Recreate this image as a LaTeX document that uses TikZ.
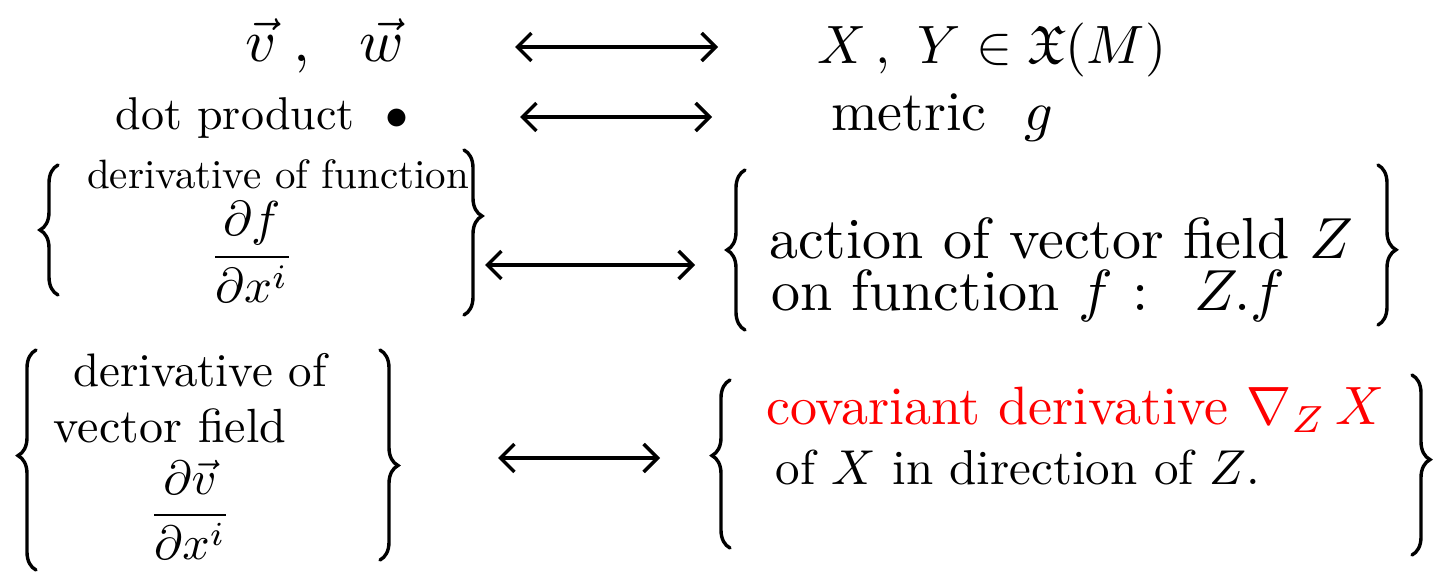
\documentclass[tikz,border=0pt]{standalone}
\usepackage{amsmath,amssymb}
\usetikzlibrary{arrows.meta,decorations.pathreplacing}
\begin{document}
\begin{tikzpicture}[x=1pt,y=-1pt,
  txt/.style={inner sep=0pt, scale=#1},
  harr/.style={line width=3.4pt, line cap=round, {Straight Barb[length=14pt,width=28pt]}-{Straight Barb[length=14pt,width=28pt]}},
  brc/.style={line width=3.4pt, line cap=round, decorate, decoration={brace, amplitude=18pt}}]
\useasboundingbox (0,0) rectangle (1454,575);
% row 1
\node[txt=6.0] (vw) at (325,46) {$\vec v\;,\ \ \vec w$};
\node[txt=5.4] (xy) at (992,50) {$X\,,\ Y \in \mathfrak{X}(M)$};
\coordinate (a1s) at (515,47); \coordinate (a1e) at (718,47);
\draw[harr] (a1s) -- (a1e);
% row 2
\node[txt=4.6] (dot) at (262,118) {dot product \ $\bullet$};
\node[txt=5.6] (met) at (942,118) {metric \ $g$};
\coordinate (a2s) at (520,117); \coordinate (a2e) at (712,117);
\draw[harr] (a2s) -- (a2e);
% row 3 left
\node[txt=4.1] (dfun) at (278,174) {derivative of function};
\node[txt=4.9] (dfx) at (252,252) {$\dfrac{\partial f}{\partial x^i}$};
\draw[brc] (58,295) -- (58,165);
\draw[brc,decoration={aspect=0.4}] (464,150) -- (464,315);
% row 3 right
\node[txt=5.8,anchor=west] (act1) at (768,238) {action of vector field $Z$};
\node[txt=5.8,anchor=west] (act2) at (770,296) {on function $f$ : \ $Z.f$};
\draw[brc] (745,330) -- (745,170);
\draw[brc,decoration={aspect=0.53}] (1378,165) -- (1378,325);
\coordinate (a3s) at (485,265); \coordinate (a3e) at (695,265);
\draw[harr] (a3s) -- (a3e);
% row 4 left
\node[txt=4.7] (dv1) at (200,370) {derivative of};
\node[txt=4.8] (dv2) at (170,426) {vector field};
\node[txt=4.8] (dvx) at (190,510) {$\dfrac{\partial \vec v}{\partial x^i}$};
\draw[brc,decoration={aspect=0.52}] (36,570) -- (36,350);
\draw[brc,decoration={aspect=0.55}] (380,350) -- (380,560);
% row 4 right
\node[txt=5.4,anchor=west,text=red] (cov) at (765,410) {covariant derivative $\nabla_{Z}\, X$};
\node[txt=4.9,anchor=west] (dir) at (775,467) {of $X$ in direction of $Z$.};
\draw[brc,decoration={aspect=0.55}] (730,548) -- (730,380);
\draw[brc,decoration={aspect=0.47}] (1412,375) -- (1412,555);
\coordinate (a4s) at (498,458); \coordinate (a4e) at (660,458);
\draw[harr] (a4s) -- (a4e);
\end{tikzpicture}
\end{document}
